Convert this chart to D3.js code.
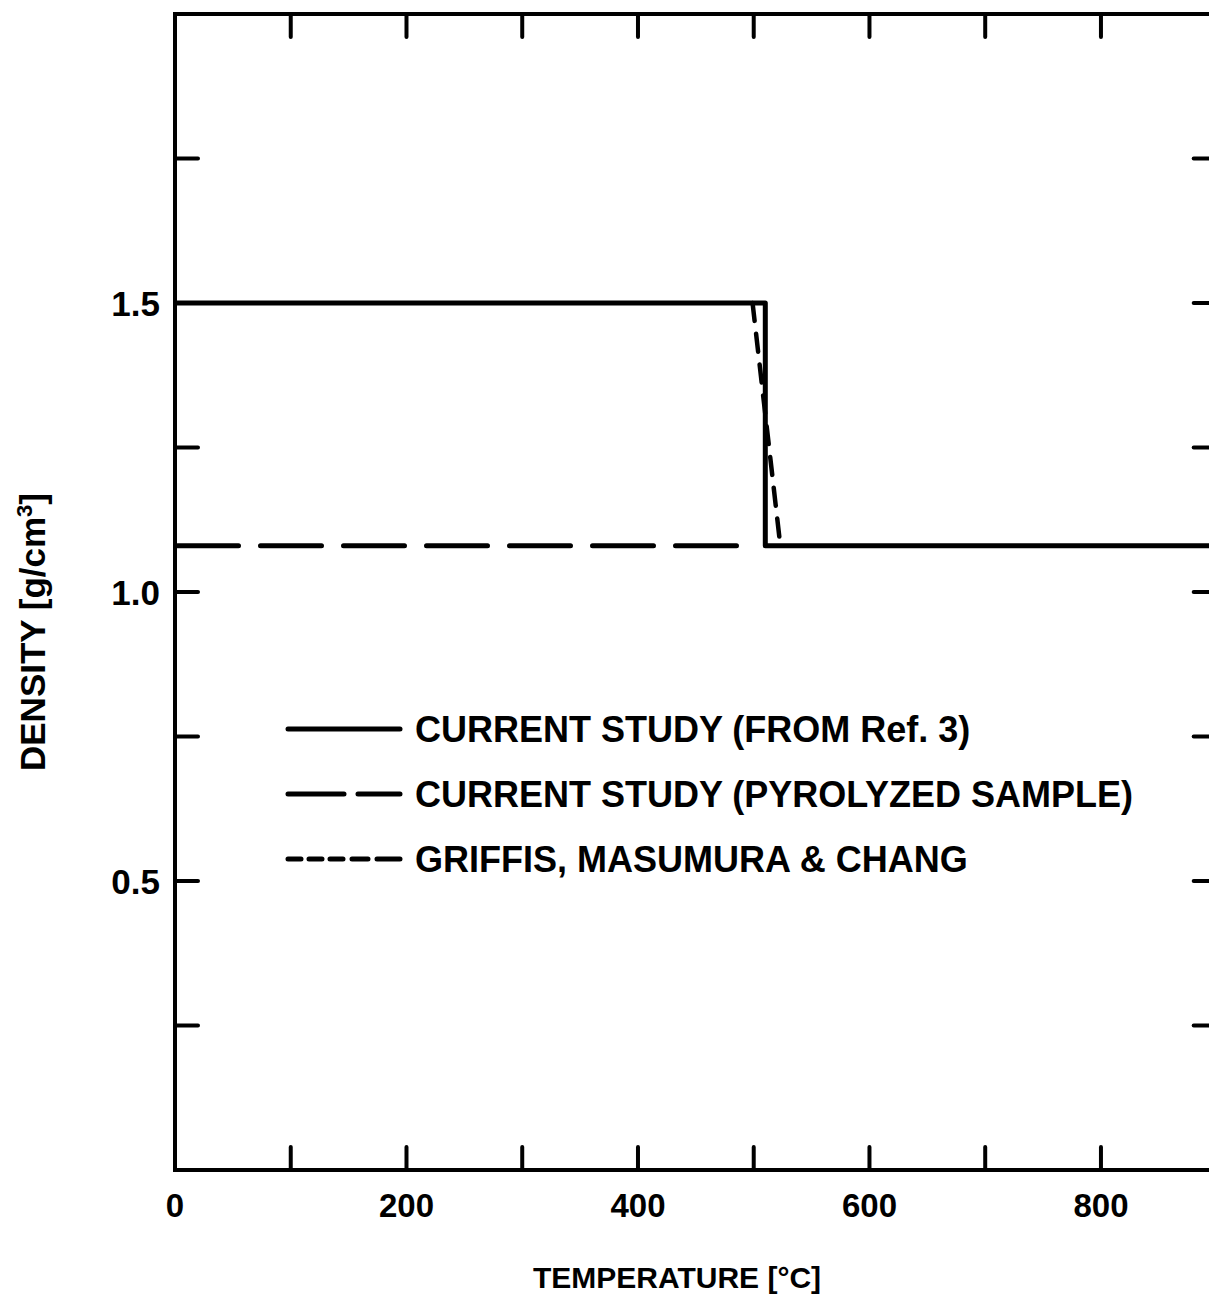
<!DOCTYPE html>
<html>
<head>
<meta charset="utf-8">
<script src="https://cdn.jsdelivr.net/npm/d3@7"></script>
<style>
  html, body { margin: 0; padding: 0; background: #fff; }
  svg { display: block; }
  text { font-family: "Liberation Sans", Arial, Helvetica, sans-serif; font-weight: bold; fill: #000; }
</style>
</head>
<body>
<script>
// ---- data ----
const xTicks = [0, 100, 200, 300, 400, 500, 600, 700, 800, 900];
const xTickLabels = [0, 200, 400, 600, 800];
const yTicks = [0.25, 0.5, 0.75, 1.0, 1.25, 1.5, 1.75];
const yTickLabels = [0.5, 1.0, 1.5];

const refTemp = [0, 510, 510, 900];
const refDensity = [1.5, 1.5, 1.08, 1.08];

const pyroTemp = [0, 495];
const pyroDensity = [1.08, 1.08];

const griffisTemp = [499, 523];
const griffisDensity = [1.5, 1.08];

const legendLabels = [
  "CURRENT STUDY (FROM Ref. 3)",
  "CURRENT STUDY (PYROLYZED SAMPLE)",
  "GRIFFIS, MASUMURA & CHANG"
];

// ---- layout ----
const W = 1209, H = 1298;
const svg = d3.select("body").append("svg").attr("width", W).attr("height", H);

const x = d3.scaleLinear().domain([0, 900]).range([175, 1216.7]);
const y = d3.scaleLinear().domain([0, 2]).range([1170, 14]);

const axisW = 4, lineW = 5, tickLen = 23;

// frame
svg.append("rect")
  .attr("x", x(0)).attr("y", y(2))
  .attr("width", x(900) - x(0)).attr("height", y(0) - y(2))
  .attr("fill", "none").attr("stroke", "#000").attr("stroke-width", axisW);

// ticks (inward, all four sides)
const g = svg.append("g").attr("stroke", "#000").attr("stroke-width", axisW).attr("stroke-linecap", "round");
xTicks.filter(d => d > 0 && d < 900).forEach(d => {
  g.append("line").attr("x1", x(d)).attr("x2", x(d)).attr("y1", y(0)).attr("y2", y(0) - tickLen);
  g.append("line").attr("x1", x(d)).attr("x2", x(d)).attr("y1", y(2)).attr("y2", y(2) + tickLen);
});
yTicks.forEach(d => {
  g.append("line").attr("x1", x(0)).attr("x2", x(0) + tickLen).attr("y1", y(d)).attr("y2", y(d));
  g.append("line").attr("x1", x(900)).attr("x2", x(900) - tickLen).attr("y1", y(d)).attr("y2", y(d));
});

// tick labels
svg.selectAll(".xl").data(xTickLabels).enter().append("text")
  .attr("x", d => x(d)).attr("y", 1217)
  .attr("text-anchor", "middle").attr("font-size", 33)
  .text(d => d);
svg.selectAll(".yl").data(yTickLabels).enter().append("text")
  .attr("x", 160).attr("y", d => y(d)).attr("dy", "0.36em")
  .attr("text-anchor", "end").attr("font-size", 35)
  .text(d => d3.format(".1f")(d));

// axis titles
svg.append("text").attr("x", 677).attr("y", 1288).attr("text-anchor", "middle")
  .attr("font-size", 30).text("TEMPERATURE [°C]");
const yt = svg.append("text").attr("transform", "translate(45,632) rotate(-90)")
  .attr("text-anchor", "middle").attr("font-size", 35);
yt.append("tspan").text("DENSITY [g/cm");
yt.append("tspan").attr("font-size", 22).attr("dy", -13).text("3");
yt.append("tspan").attr("dy", 13).text("]");

// data lines
const line = d3.line().x(d => x(d[0])).y(d => y(d[1]));
const zip = (a, b) => a.map((v, i) => [v, b[i]]);

svg.append("path").datum(zip(pyroTemp, pyroDensity)).attr("d", line)
  .attr("fill", "none").attr("stroke", "#000").attr("stroke-width", lineW)
  .attr("stroke-dasharray", "61,22").attr("stroke-dashoffset", -2.5).attr("stroke-linecap", "round");
svg.append("path").datum(zip(griffisTemp, griffisDensity)).attr("d", line)
  .attr("fill", "none").attr("stroke", "#000").attr("stroke-width", 4.5)
  .attr("stroke-dasharray", "18,13").attr("stroke-linecap", "round");
svg.append("path").datum(zip(refTemp, refDensity)).attr("d", line)
  .attr("fill", "none").attr("stroke", "#000").attr("stroke-width", lineW)
  .attr("stroke-linejoin", "round");

// legend
const legY = [729, 794, 859];
const dashes = [null, "56,14,46", "13,8,13,8,13,9,16,9,24"];
legendLabels.forEach((lab, i) => {
  svg.append("line").attr("x1", 288).attr("x2", 400).attr("y1", legY[i]).attr("y2", legY[i])
    .attr("stroke", "#000").attr("stroke-width", 5)
    .attr("stroke-dasharray", dashes[i]).attr("stroke-linecap", "round");
  svg.append("text").attr("x", 415).attr("y", legY[i]).attr("dy", "0.36em")
    .attr("font-size", 36).text(lab);
});
</script>
</body>
</html>
